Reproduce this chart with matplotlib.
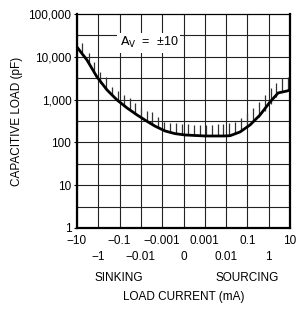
import numpy as np
import matplotlib
matplotlib.use("Agg")
import matplotlib.pyplot as plt

plt.rcParams['font.family'] = ['Liberation Sans Narrow', 'Liberation Sans', 'DejaVu Sans']
plt.rcParams['mathtext.fontset'] = 'custom'
plt.rcParams['mathtext.rm'] = 'Liberation Sans Narrow'
plt.rcParams['mathtext.it'] = 'Liberation Sans Narrow'

# x axis is a folded log scale: one column per decade of load current
x_labels = ['\u221210', '\u22121', '\u22120.1', '\u22120.01', '\u22120.001', '0',
            '0.001', '0.01', '0.1', '1', '10']
y_ticks = [1, 10, 100, 1000, 10000, 100000]
y_labels = ['1', '10', '100', '1,000', '10,000', '100,000']

# boundary curve (position in columns, capacitive load in pF)
curve_x = [0.0, 0.47, 0.94, 1.41, 1.88, 2.35, 2.82, 3.29, 3.66, 4.13, 4.6, 5.07,
           6.01, 6.85, 7.18, 7.65, 8.12, 8.59, 9.06, 9.44, 9.86, 10.0]
curve_y = [16900, 8400, 3370, 1680, 980, 637, 437, 310, 240, 185, 160, 149,
           141, 141, 143, 175, 255, 437, 880, 1430, 1590, 1680]

# hatch marks above the curve (unstable region)
hatch_x = [0.23, 0.56, 0.80, 1.08, 1.36, 1.64, 1.92, 2.21, 2.49, 2.72, 3.00, 3.29,
           3.52, 3.80, 4.08, 4.37, 4.65, 4.93, 5.21, 5.49, 5.77, 6.06, 6.34, 6.62,
           6.85, 7.14, 7.42, 7.70, 7.98, 8.26, 8.54, 8.83, 9.11, 9.34, 9.62, 9.91]
hatch_lo = [12300, 7160, 4420, 2440, 1870, 1280, 927, 748, 603, 486, 414, 320,
            270, 220, 190, 170, 157, 149, 147, 143, 141, 141, 141, 141,
            141, 143, 160, 185, 229, 300, 392, 542, 789, 1150, 1510, 1680]
hatch_hi = [21000, 12300, 7570, 4420, 3370, 1970, 1590, 1280, 1090, 833, 637, 542,
            513, 392, 300, 284, 284, 269, 269, 255, 255, 255, 255, 269,
            269, 284, 300, 372, 486, 637, 880, 1280, 1870, 2440, 3200, 3370]

fig = plt.figure(figsize=(2.96, 3.11), dpi=100)
ax = fig.add_axes([0.260, 0.267, 0.720, 0.688])
ax.set_yscale('log')
ax.set_xlim(0, 10)
ax.set_ylim(1, 100000)

for i in range(11):
    ax.axvline(i, color='#222222', lw=0.8, zorder=1)
for k in range(5):
    ax.axhline(10 ** k, color='#222222', lw=0.8, zorder=1)
    ax.axhline(10 ** (k + 0.5), color='#222222', lw=0.8, zorder=1)

ax.vlines(hatch_x, hatch_lo, hatch_hi, color='#333333', lw=0.9, zorder=2)
ax.plot(curve_x, curve_y, color='black', lw=2.0, zorder=3, solid_capstyle='round')

ax.text(0.20, 0.865, '$\\mathrm{A_V}$  =  \u00b110',
        transform=ax.transAxes, fontsize=9, ha='left', va='center', zorder=4,
        bbox=dict(facecolor='white', edgecolor='none', pad=1.5))

ax.set_yticks(y_ticks)
ax.set_yticklabels(y_labels, fontsize=8.5)
ax.yaxis.set_minor_locator(matplotlib.ticker.NullLocator())
ax.tick_params(axis='y', length=2, width=0.8, pad=2)

ax.set_xticks(range(11))
ax.set_xticklabels([])
ax.tick_params(axis='x', length=0)
for i, lab in enumerate(x_labels):
    yoff = -0.063 if i % 2 == 0 else -0.138
    ax.text(i, yoff, lab, transform=ax.get_xaxis_transform(), ha='center',
            va='center', fontsize=8.5, clip_on=False)

ax.text(1.97, -0.235, 'SINKING', transform=ax.get_xaxis_transform(), ha='center',
        va='center', fontsize=8.5)
ax.text(7.98, -0.235, 'SOURCING', transform=ax.get_xaxis_transform(), ha='center',
        va='center', fontsize=8.5)
ax.text(5.0, -0.322, 'LOAD CURRENT (mA)', transform=ax.get_xaxis_transform(),
        ha='center', va='center', fontsize=8.5)
ax.set_ylabel('CAPACITIVE LOAD (pF)', fontsize=8.5, labelpad=4)

for side in ['left', 'bottom', 'right']:
    ax.spines[side].set_linewidth(1.6)
ax.spines['top'].set_linewidth(0.9)

fig.savefig('out.png', dpi=100)
